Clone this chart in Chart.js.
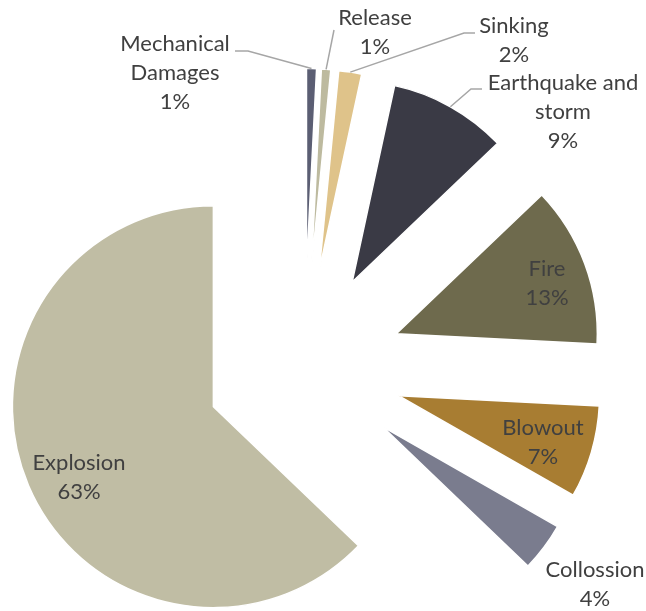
<!DOCTYPE html>
<html>
<head>
<meta charset="utf-8">
<script src="https://cdn.jsdelivr.net/npm/chart.js@4.4.0/dist/chart.umd.min.js"></script>
<style>
html, body { margin: 0; padding: 0; background: #fff; }
#wrap { width: 646px; height: 611px; position: relative; }
</style>
</head>
<body>
<div id="wrap"><canvas id="chart"></canvas></div>
<script>
const categories = ['Mechanical Damages', 'Release', 'Sinking', 'Earthquake and storm', 'Fire', 'Blowout', 'Collossion', 'Explosion'];
const shares = [0.8, 0.75, 1.84, 9.48, 12.94, 7.44, 3.92, 62.83];
const colours = ['#5b5e73', '#bdba9f', '#dfc38a', '#3a3a45', '#6e6a4d', '#a87d32', '#7a7c8e', '#c0bda4'];

// label text as wrapped in the original, percent line is added later
const labelLines = [['Mechanical', 'Damages'], ['Release'], ['Sinking'], ['Earthquake and', 'storm'], ['Fire'], ['Blowout'], ['Collossion'], ['Explosion']];
// centre x and first baseline of each label
const labelSpots = [[175, 51], [375, 25], [514, 33], [563, 90], [547, 276], [543, 435], [595, 577], [79, 470]];
// leader line points from the label side, the slice end is added from the arc
const leaders = [[[235, 51], [248, 51]], [[334, 30]], [[475, 33], [464, 33]], [[482, 89], [471, 89]], null, null, null, null];

const EXPLODE = 98.5;
const LINE = 29;

const explodePlugin = {
    id: 'explode',
    beforeDatasetDraw(chart, args) {
        const ctx = chart.ctx;
        args.meta.data.forEach(arc => {
            const mid = (arc.startAngle + arc.endAngle) / 2;
            ctx.save();
            ctx.translate(Math.cos(mid) * EXPLODE, Math.sin(mid) * EXPLODE);
            arc.draw(ctx);
            ctx.restore();
        });
        return false;
    },
    afterDatasetsDraw(chart) {
        const ctx = chart.ctx;
        const arcs = chart.getDatasetMeta(0).data;
        const total = shares.reduce((a, b) => a + b, 0);
        ctx.save();
        ctx.strokeStyle = '#a6a6a6';
        ctx.lineWidth = 1.5;
        arcs.forEach((arc, i) => {
            if (!leaders[i]) return;
            const mid = (arc.startAngle + arc.endAngle) / 2;
            const r = arc.outerRadius + EXPLODE;
            ctx.beginPath();
            leaders[i].forEach(([x, y], k) => k ? ctx.lineTo(x, y) : ctx.moveTo(x, y));
            ctx.lineTo(arc.x + Math.cos(mid) * r, arc.y + Math.sin(mid) * r);
            ctx.stroke();
        });
        ctx.fillStyle = '#404040';
        ctx.font = '22px Lato';
        ctx.textAlign = 'center';
        ctx.textBaseline = 'alphabetic';
        arcs.forEach((arc, i) => {
            const lines = labelLines[i].concat(Math.round(shares[i] / total * 100) + '%');
            const [x, y] = labelSpots[i];
            lines.forEach((t, k) => ctx.fillText(t, x, y + k * LINE));
        });
        ctx.restore();
    }
};

const ctx = document.querySelector('#chart').getContext('2d');

const myChart = new Chart(ctx, {
    type: 'pie',
    data: {
        labels: categories,
        datasets: [{
            data: shares,
            backgroundColor: colours,
            borderColor: '#ffffff',
            borderWidth: 1.5
        }]
    },
    options: {
        responsive: true,
        maintainAspectRatio: false,
        animation: false,
        radius: 201,
        layout: { padding: { left: 0, right: 38, top: 125, bottom: 0 } },
        plugins: {
            legend: { display: false },
            tooltip: { enabled: false }
        }
    },
    plugins: [explodePlugin]
});
</script>
</body>
</html>
